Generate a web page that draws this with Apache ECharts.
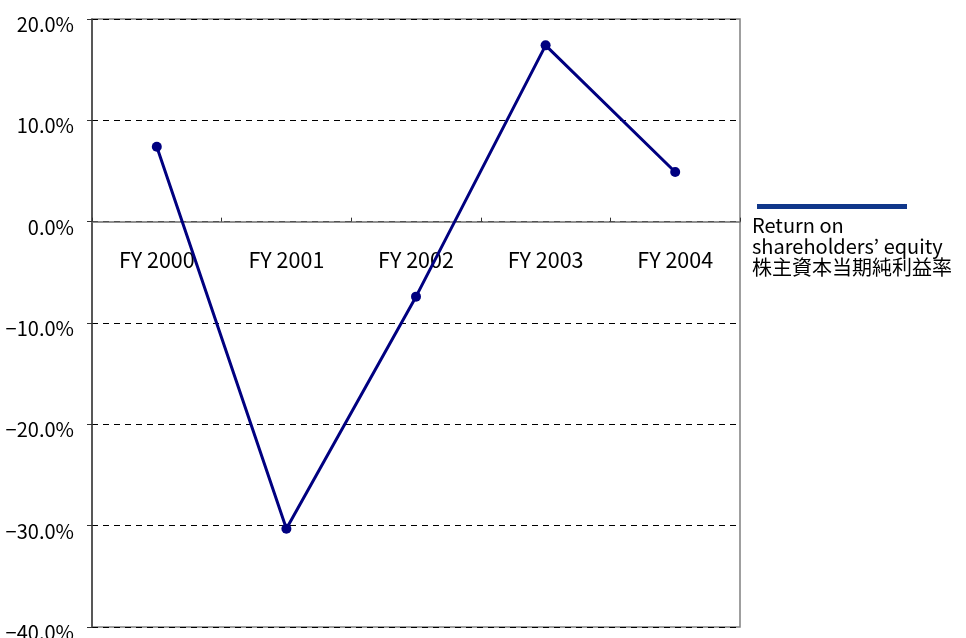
<!DOCTYPE html>
<html><head><meta charset="utf-8">
<script src="https://cdn.jsdelivr.net/npm/echarts@6/dist/echarts.min.js"></script>
<style>html,body{margin:0;padding:0;background:#fff}#c{width:966px;height:638px}</style>
</head><body><div id="c"></div>
<script>
var categories = ['FY 2000','FY 2001','FY 2002','FY 2003','FY 2004'];
var roeValues = [7.4, -30.3, -7.4, 17.4, 4.9];
var seriesName = 'Return on\nshareholders\u2019 equity\n株主資本当期純利益率';
var yMin = -40, yMax = 20, yStep = 10;

var W = 966, H = 638, gTop = 19, gBottom = 11;
var plotH = H - gTop - gBottom;
var zeroOffset = -plotH * (0 - yMin) / (yMax - yMin);

var chart = echarts.init(document.getElementById('c'), null, {renderer:'canvas'});
var font = '"Noto Sans CJK JP","Noto Sans",sans-serif';
chart.setOption({
  animation: false,
  backgroundColor: '#fff',
  grid: {left: 92, right: 226, top: gTop, bottom: gBottom, show: true, borderColor: '#808080', borderWidth: 1.5, containLabel: false, outerBoundsMode: 'none'},
  xAxis: {
    type: 'category', data: categories, boundaryGap: true, position: 'bottom', offset: zeroOffset,
    axisLine: {onZero: false, lineStyle: {color: '#6e6e6e', width: 1.5}},
    axisTick: {show: true, inside: true, length: 4, alignWithLabel: false, lineStyle: {color: '#333'}},
    axisLabel: {margin: 27, fontSize: 21.5, color: '#000', fontFamily: font},
    splitLine: {show: false}
  },
  yAxis: {
    type: 'value', min: yMin, max: yMax, interval: yStep,
    axisLine: {show: true, lineStyle: {color: '#404040', width: 1.5}},
    axisTick: {show: true, length: 5, lineStyle: {color: '#333'}},
    axisLabel: {fontSize: 20, color: '#000', margin: 18, fontFamily: font,
      formatter: function(v){ return '{v|' + (v < 0 ? '\u2212' + Math.abs(v).toFixed(1) : v.toFixed(1)) + '%}'; },
      rich: {v: {fontSize: 20, fontFamily: font, color: '#000', padding: [11, 0, 0, 0]}}},
    splitLine: {show: true, lineStyle: {color: '#000', type: [6, 5], width: 1}}
  },
  series: [{
    name: seriesName, type: 'line', data: roeValues,
    symbol: 'circle', symbolSize: 10,
    lineStyle: {color: '#000080', width: 3},
    itemStyle: {color: '#000080'}
  }],
  graphic: [
    {type: 'rect', left: 757, top: 204, shape: {width: 150, height: 5}, style: {fill: '#10378a'}},
    {type: 'text', left: 752, top: 215, style: {text: seriesName, fill: '#000', fontSize: 20, lineHeight: 21, fontFamily: font}}
  ]
});
</script></body></html>
